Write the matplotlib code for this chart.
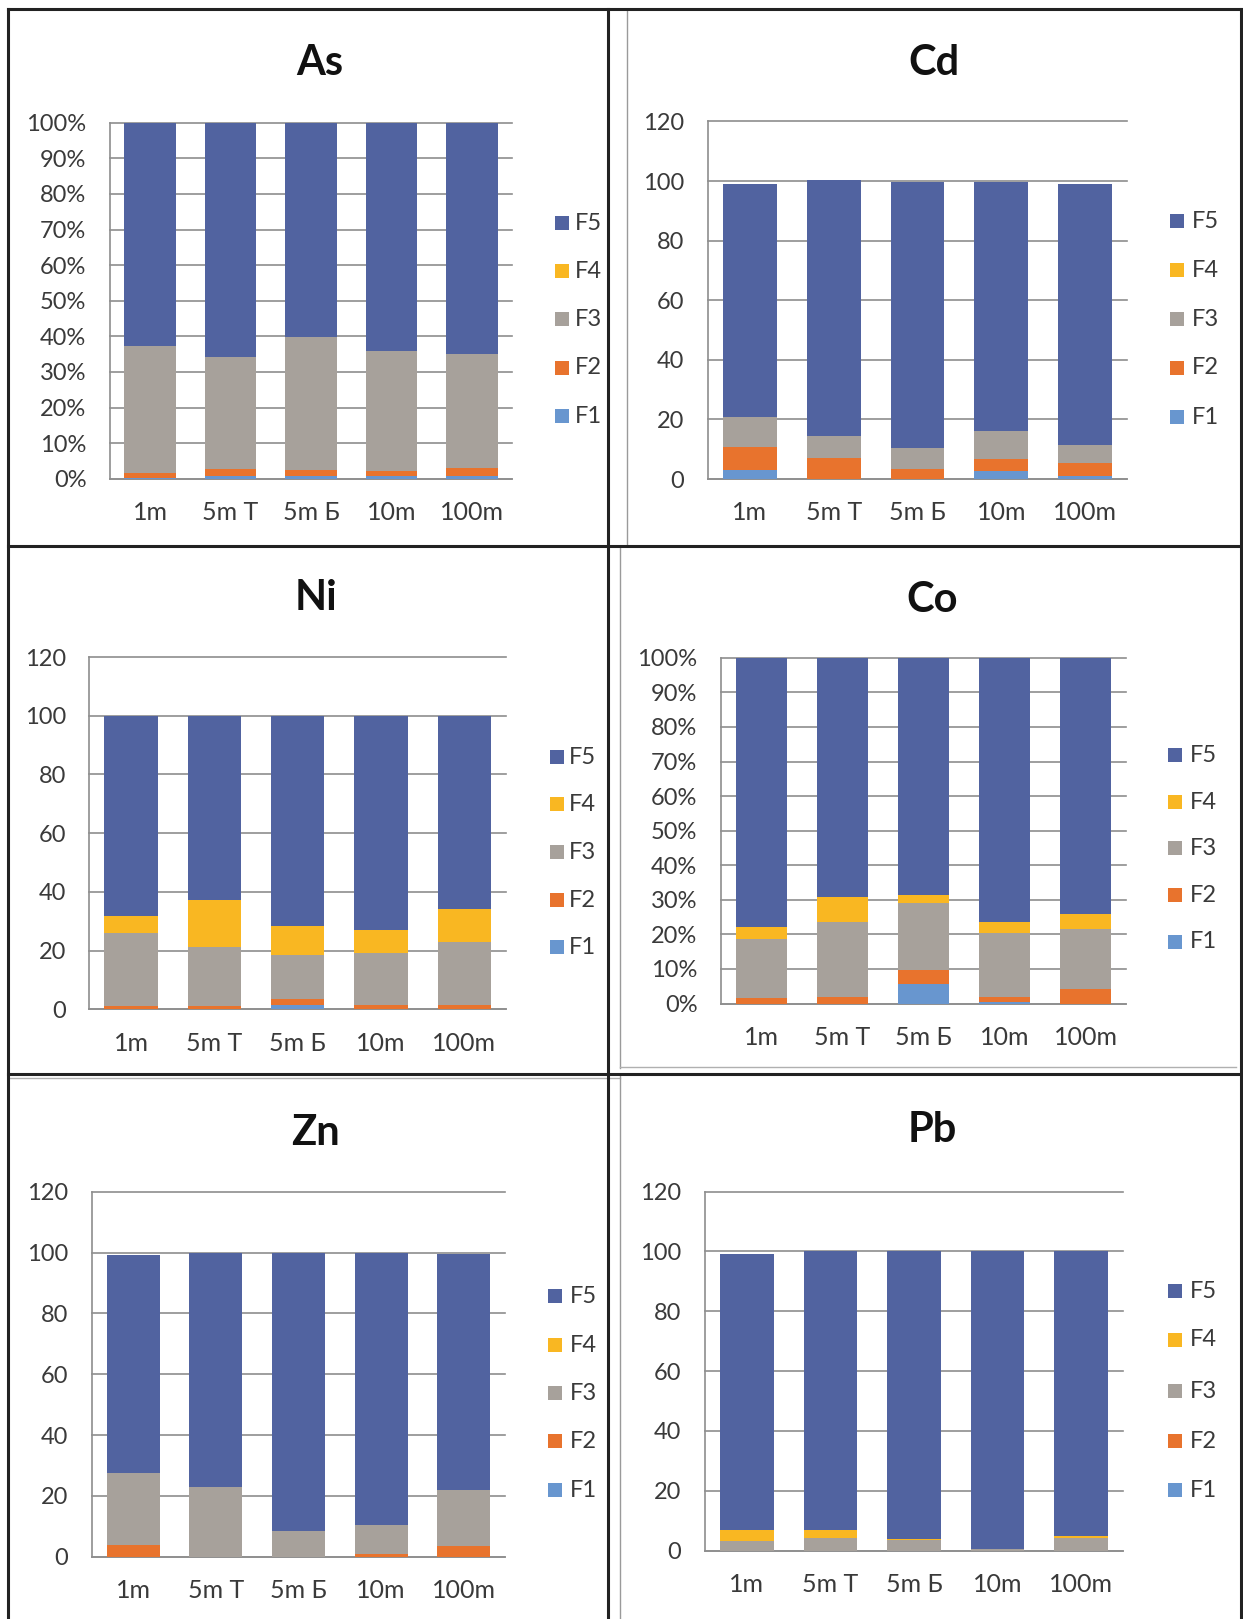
import matplotlib
matplotlib.use("Agg")
import matplotlib.pyplot as plt
from matplotlib.lines import Line2D
from matplotlib.patches import Rectangle
from matplotlib.ticker import FuncFormatter, MultipleLocator

W, H, DPI = 1243, 1619, 100

plt.rcParams["font.family"] = ["Lato", "DejaVu Sans"]

# sampling sites and sequential-extraction fractions
sites = ["1m", "5m T", "5m Б", "10m", "100m"]
fractions = ["F1", "F2", "F3", "F4", "F5"]
fraction_colors = ["#6896cf", "#e8732d", "#a7a19b", "#f9b722", "#5163a0"]

# rows: F1..F5, columns: sites
as_values = [
    [0.3, 0.8, 0.8, 0.8, 0.8],
    [1.4, 1.9, 1.7, 1.4, 2.2],
    [35.7, 31.6, 37.4, 33.8, 32.0],
    [0.0, 0.0, 0.0, 0.0, 0.0],
    [62.6, 65.7, 60.1, 64.0, 65.0],
]
cd_values = [
    [3.1, 0.0, 0.0, 2.7, 1.1],
    [7.6, 7.2, 3.3, 4.0, 4.3],
    [10.0, 7.4, 7.3, 9.3, 6.1],
    [0.0, 0.0, 0.0, 0.0, 0.0],
    [78.4, 85.8, 89.2, 83.8, 87.5],
]
ni_values = [
    [0.0, 0.0, 1.5, 0.0, 0.0],
    [1.0, 1.0, 2.1, 1.6, 1.6],
    [24.9, 20.2, 14.9, 17.5, 21.5],
    [5.8, 16.1, 9.8, 8.1, 11.2],
    [68.3, 62.7, 71.7, 72.8, 65.7],
]
co_values = [
    [0.0, 0.0, 5.6, 0.3, 0.0],
    [1.6, 1.9, 4.2, 1.6, 4.1],
    [17.1, 21.6, 19.2, 18.4, 17.4],
    [3.3, 7.2, 2.5, 3.4, 4.5],
    [78.0, 69.3, 68.5, 76.3, 74.0],
]
zn_values = [
    [0.0, 0.0, 0.0, 0.0, 0.0],
    [3.7, 0.0, 0.0, 0.8, 3.5],
    [23.9, 22.8, 8.3, 9.6, 18.4],
    [0.0, 0.0, 0.0, 0.0, 0.0],
    [71.5, 77.2, 91.7, 89.6, 77.5],
]
pb_values = [
    [0.0, 0.0, 0.0, 0.0, 0.0],
    [0.0, 0.0, 0.0, 0.0, 0.0],
    [3.3, 4.1, 3.6, 0.5, 4.1],
    [3.5, 2.7, 0.4, 0.0, 0.9],
    [92.2, 93.2, 96.0, 99.5, 95.0],
]

# panel layout in pixels: plot box (left, top, right, bottom), title centre,
# legend swatch x, legend label x, legend row centres, percent-stacked flag
panels = [
    ("As", as_values, (110, 122.8, 512, 478.8), (320, 63), 555, 575,
     [223, 271, 319, 368, 416], True),
    ("Cd", cd_values, (708, 121.4, 1127, 479.1), (934, 63), 1170, 1192,
     [221, 270, 319, 368, 417], False),
    ("Ni", ni_values, (89.4, 657, 506, 1009.4), (316, 598.5), 550, 569,
     [757, 804, 852, 900, 947], False),
    ("Co", co_values, (721, 657.8, 1126, 1003.5), (932, 600), 1168, 1190,
     [755, 802, 848, 895, 942], True),
    ("Zn", zn_values, (92, 1191.8, 505, 1556.7), (316, 1133), 548, 570,
     [1296, 1345, 1393, 1441, 1490], False),
    ("Pb", pb_values, (705, 1191.5, 1123, 1550.7), (932, 1129.5), 1168, 1190,
     [1291, 1340, 1391, 1441, 1490], False),
]

GRID = "#8e8e8e"
TEXT = "#3a3a3a"
YTICK_FS = 17
XTICK_FS = 18
LEGEND_FS = 17

fig = plt.figure(figsize=(W / DPI, H / DPI), dpi=DPI)
fig.patch.set_facecolor("white")


def fx(x):
    return x / W


def fy(y):
    return 1 - y / H


for name, values, box, title_xy, sq_x, lab_x, leg_ys, percent in panels:
    left, top, right, bottom = box
    ax = fig.add_axes([fx(left), fy(bottom), (right - left) / W, (bottom - top) / H])
    x = list(range(len(sites)))
    if percent:
        totals = [sum(values[f][i] for f in range(len(fractions))) for i in x]
        data = [[values[f][i] / totals[i] * 100 for i in x] for f in range(len(fractions))]
    else:
        data = values
    base = [0.0] * len(sites)
    for f, label in enumerate(fractions):
        ax.bar(x, data[f], bottom=base, width=0.64, color=fraction_colors[f],
               linewidth=0, zorder=3)
        base = [b + v for b, v in zip(base, data[f])]

    ax.set_xlim(-0.5, len(sites) - 0.5)
    if percent:
        ax.set_ylim(0, 100)
        ax.yaxis.set_major_locator(MultipleLocator(10))
        ax.yaxis.set_major_formatter(FuncFormatter(lambda v, _: f"{v:.0f}%"))
    else:
        ax.set_ylim(0, 120)
        ax.yaxis.set_major_locator(MultipleLocator(20))
        ax.yaxis.set_major_formatter(FuncFormatter(lambda v, _: f"{v:.0f}"))
    ax.set_xticks(x)
    ax.set_xticklabels(sites)
    ax.yaxis.grid(True, color=GRID, linewidth=1.2, zorder=0)
    ax.set_axisbelow(True)
    for side in ("top", "right"):
        ax.spines[side].set_visible(False)
    for side in ("left", "bottom"):
        ax.spines[side].set_color(GRID)
        ax.spines[side].set_linewidth(1.2)
    ax.tick_params(axis="y", length=0, pad=17, labelsize=YTICK_FS, labelcolor=TEXT)
    ax.tick_params(axis="x", length=0, pad=16, labelsize=XTICK_FS, labelcolor=TEXT)
    for gl in ax.yaxis.get_gridlines():
        gl.set_clip_on(False)

    fig.text(fx(title_xy[0]), fy(title_xy[1]), name, ha="center", va="center",
             fontsize=30, fontweight="bold", color="#111111")

    # legend, top row F5 down to F1
    for row, f in enumerate(reversed(range(len(fractions)))):
        yc = leg_ys[row]
        fig.add_artist(Rectangle((fx(sq_x), fy(yc + 7)), 14 / W, 14 / H,
                                 transform=fig.transFigure,
                                 facecolor=fraction_colors[f], edgecolor="none"))
        fig.text(fx(lab_x), fy(yc), fractions[f], ha="left", va="center",
                 fontsize=LEGEND_FS, color=TEXT)


def hline(y, x1, x2, color="#222222", lw=2.2):
    fig.add_artist(Line2D([fx(x1), fx(x2)], [fy(y), fy(y)],
                          transform=fig.transFigure, color=color, linewidth=lw))


def vline(x, y1, y2, color="#222222", lw=2.2):
    fig.add_artist(Line2D([fx(x), fx(x)], [fy(y1), fy(y2)],
                          transform=fig.transFigure, color=color, linewidth=lw))


# thin frames of the individual chart areas
vline(627, 9, 546, color="#9a9a9a", lw=1.0)
vline(620, 546, 1068, color="#9a9a9a", lw=1.0)
hline(1067, 620, 1236, color="#b0b0b0", lw=1.0)
hline(1078, 8, 620, color="#b0b0b0", lw=1.0)
vline(620, 1074, 1619, color="#9a9a9a", lw=1.0)

# outer frame and dividers
hline(9, 8, 1242)
vline(8, 9, 1619)
vline(1241, 9, 1619)
vline(608, 9, 1619)
hline(546, 8, 1242)
hline(1074, 8, 1242)

fig.savefig("out.png", dpi=DPI, facecolor="white")
